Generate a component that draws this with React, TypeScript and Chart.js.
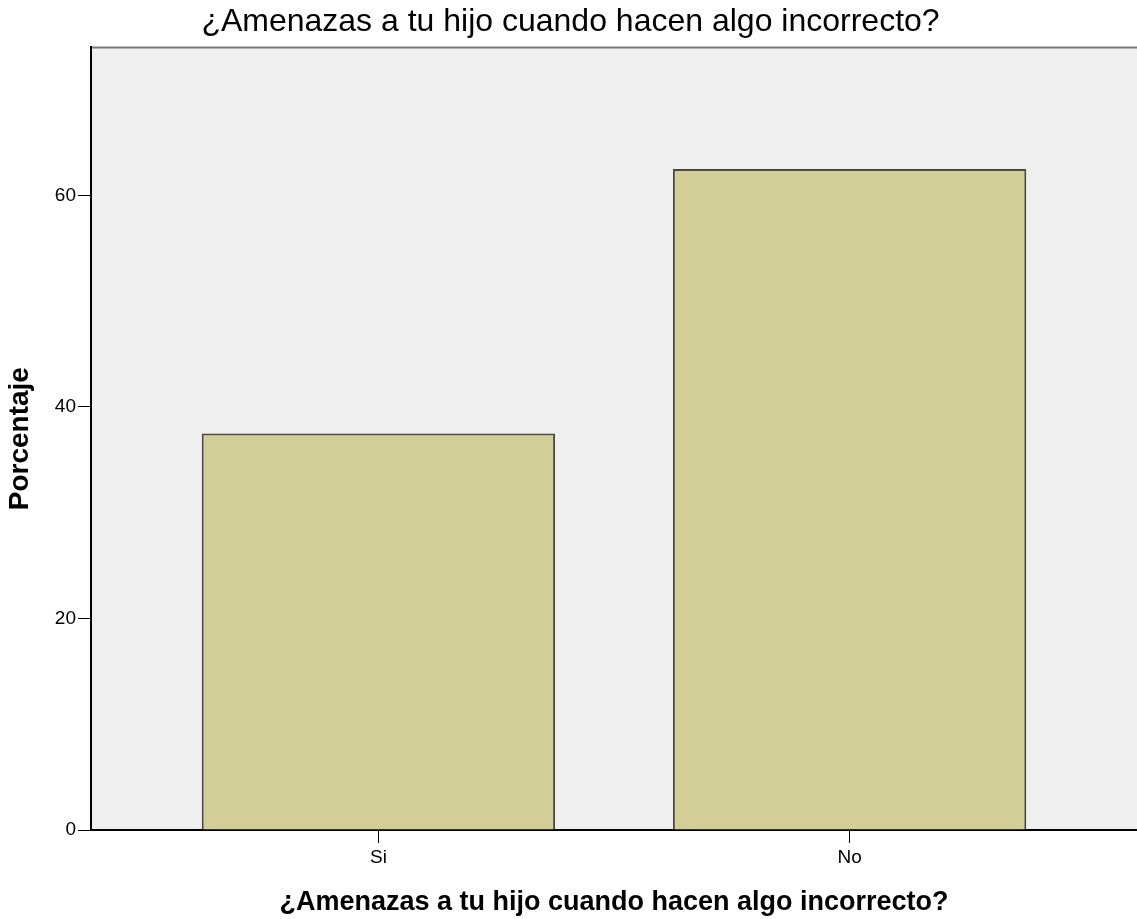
import React, { useEffect, useRef } from "react";
import { Chart, registerables } from "chart.js";

Chart.register(...registerables);

const categories = ["Si", "No"];
const categoryPositions = [1, 2];
const percentages = [37.5, 62.5];
const yTicks = [0, 20, 40, 60];
const titleText = "¿Amenazas a tu hijo cuando hacen algo incorrecto?";
const yTitle = "Porcentaje";

const plotBg = {
  id: "plotBg",
  beforeDraw(chart: any) {
    const { ctx, chartArea } = chart;
    ctx.save();
    ctx.fillStyle = "#efefef";
    ctx.fillRect(chartArea.left, chartArea.top, chartArea.right - chartArea.left, chartArea.bottom - chartArea.top);
    ctx.strokeStyle = "#7a7a7a";
    ctx.lineWidth = 2;
    ctx.beginPath();
    ctx.moveTo(chartArea.left, chartArea.top);
    ctx.lineTo(chartArea.right, chartArea.top);
    ctx.stroke();
    ctx.restore();
  },
};

export default function App() {
  const ref = useRef<HTMLCanvasElement>(null);
  useEffect(() => {
    const chart = new Chart(ref.current!, {
      type: "bar",
      data: {
        datasets: [
          {
            data: categoryPositions.map((x, i) => ({ x, y: percentages[i] })),
            backgroundColor: "#d3ce98",
            borderColor: "#4a4a3c",
            borderWidth: 2,
            barPercentage: 0.75,
            categoryPercentage: 1,
          },
        ],
      },
      options: {
        animation: false,
        responsive: false,
        maintainAspectRatio: false,
        layout: { padding: { left: 0, right: -4, top: 0, bottom: 0 } },
        plugins: {
          legend: { display: false },
          tooltip: { enabled: false },
          title: {
            display: true,
            text: titleText,
            color: "#000",
            font: { family: "Liberation Sans, Arial", size: 32, weight: "normal" },
            padding: { top: 3, bottom: 6 },
          },
        },
        scales: {
          x: {
            type: "linear",
            offset: false,
            min: 0.39,
            max: 2.61,
            grid: {
              display: true,
              offset: false,
              drawOnChartArea: false,
              drawTicks: true,
              tickLength: 13,
              color: "#000",
            },
            border: { display: true, color: "#000", width: 2 },
            afterBuildTicks: (axis: any) => {
              axis.ticks = categoryPositions.map((v) => ({ value: v }));
            },
            afterFit: (axis: any) => {
              axis.height = 89;
            },
            ticks: {
              color: "#000",
              font: { family: "Liberation Sans, Arial", size: 19 },
              padding: 3,
              autoSkip: false,
              maxRotation: 0,
              callback: (v: any) => {
                const i = categoryPositions.indexOf(Number(v));
                return i >= 0 ? categories[i] : "";
              },
            },
            title: {
              display: true,
              text: titleText,
              color: "#000",
              font: { family: "Liberation Sans, Arial", size: 27, weight: "bold" },
              padding: { top: 8, bottom: 0 },
            },
          },
          y: {
            min: 0,
            max: 74,
            afterBuildTicks: (axis: any) => {
              axis.ticks = yTicks.map((v) => ({ value: v }));
            },
            afterFit: (axis: any) => {
              axis.width = 91;
            },
            grid: {
              display: true,
              drawOnChartArea: false,
              drawTicks: true,
              tickLength: 13,
              color: "#000",
            },
            border: { display: true, color: "#000", width: 2 },
            ticks: {
              color: "#000",
              font: { family: "Liberation Sans, Arial", size: 19 },
              padding: 2,
            },
            title: {
              display: true,
              text: yTitle,
              color: "#000",
              font: { family: "Liberation Sans, Arial", size: 28, weight: "bold" },
              padding: { top: 3, bottom: 0 },
            },
          },
        },
      },
      plugins: [plotBg],
    });
    return () => chart.destroy();
  }, []);
  return (
    <div style={{ position: "fixed", left: 0, top: 0, width: 1137, height: 919, background: "#fff" }}>
      <canvas ref={ref} width={1137} height={919} style={{ width: 1137, height: 919 }} />
    </div>
  );
}
